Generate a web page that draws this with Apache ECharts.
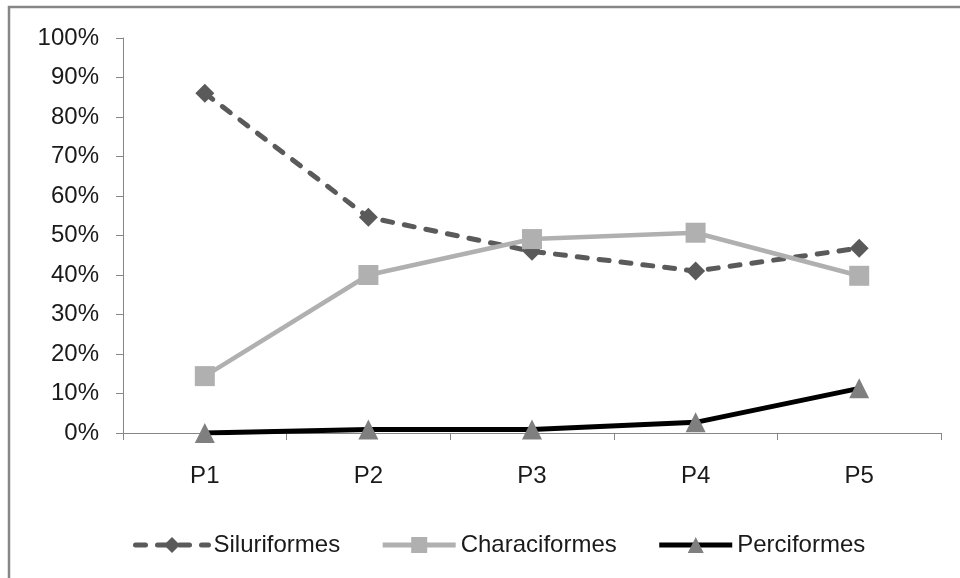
<!DOCTYPE html>
<html>
<head>
<meta charset="utf-8">
<script src="https://cdn.jsdelivr.net/npm/echarts@6/dist/echarts.min.js"></script>
<style>
html,body{margin:0;padding:0;background:#fff;}
#chart{width:960px;height:578px;}
</style>
</head>
<body>
<div id="chart"></div>
<script>
const categories = ['P1', 'P2', 'P3', 'P4', 'P5'];
const siluriformes = [86, 54.6, 46, 41, 46.8];
const characiformes = [14.4, 40, 49.1, 50.7, 39.8];
const perciformes = [0, 0.9, 0.9, 2.7, 11.3];
const yTicks = { min: 0, max: 100, interval: 10 };

const FONT = '"Liberation Sans", Arial, sans-serif';
const TXT = '#1a1a1a';
const AX = '#868686';

const chart = echarts.init(document.getElementById('chart'), null, { renderer: 'canvas' });
chart.setOption({
  animation: false,
  backgroundColor: '#fff',
  textStyle: { fontFamily: FONT },
  graphic: [{
    type: 'rect',
    shape: { x: 9, y: 7, width: 1200, height: 1000 },
    style: { fill: 'none', stroke: AX, lineWidth: 2.5 },
    silent: true, z: -1
  }],
  grid: { left: 123, right: 19, top: 38, bottom: 145, containLabel: false },
  legend: {
    left: 128, top: 528,
    itemWidth: 73, itemHeight: 20, itemGap: 40,
    textStyle: { fontFamily: FONT, fontSize: 24, color: TXT },
    lineStyle: { width: 5 },
    data: [
      { name: 'Siluriformes', lineStyle: { width: 5, type: [10, 12], cap: 'round' } },
      { name: 'Characiformes', lineStyle: { width: 5 } },
      { name: 'Perciformes', lineStyle: { width: 5 } }
    ]
  },
  xAxis: {
    type: 'category',
    data: categories,
    boundaryGap: true,
    axisLine: { lineStyle: { color: AX, width: 1 } },
    axisTick: { show: true, length: 7, lineStyle: { color: AX } },
    axisLabel: { fontFamily: FONT, fontSize: 24, color: TXT, margin: 31 },
    splitLine: { show: false }
  },
  yAxis: {
    type: 'value',
    min: yTicks.min, max: yTicks.max, interval: yTicks.interval,
    axisLine: { show: true, lineStyle: { color: AX, width: 1 } },
    axisTick: { show: true, length: 7, lineStyle: { color: AX } },
    axisLabel: { fontFamily: FONT, fontSize: 24, color: TXT, margin: 24, formatter: '{value}%' },
    splitLine: { show: false }
  },
  series: [
    {
      name: 'Siluriformes', type: 'line', data: siluriformes,
      symbol: 'diamond', symbolSize: 19,
      itemStyle: { color: '#5a5a5a' },
      lineStyle: { color: '#5a5a5a', width: 5, type: [10, 12], cap: 'round' }
    },
    {
      name: 'Characiformes', type: 'line', data: characiformes,
      symbol: 'rect', symbolSize: 20,
      itemStyle: { color: '#b0b0b0' },
      lineStyle: { color: '#b0b0b0', width: 4.5 }
    },
    {
      name: 'Perciformes', type: 'line', data: perciformes,
      symbol: 'triangle', symbolSize: 20,
      itemStyle: { color: '#7f7f7f' },
      lineStyle: { color: '#000000', width: 5 }
    }
  ]
});
</script>
</body>
</html>
